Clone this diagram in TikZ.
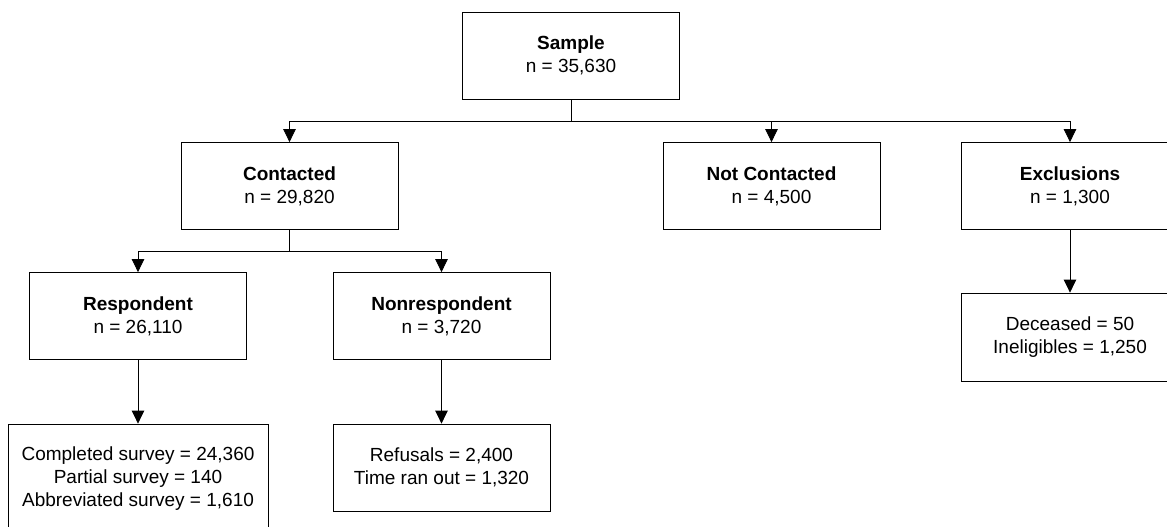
\documentclass[tikz,border=0pt]{standalone}
\usepackage{fontspec}
\setmainfont{Liberation Sans}
\usetikzlibrary{arrows.meta}
\begin{document}
\begin{tikzpicture}[x=1pt,y=-1pt,
  box/.style={draw=black,line width=0.8pt,fill=white,align=center,minimum width=217pt,minimum height=87pt,inner sep=0pt,font=\fontsize{19}{23}\selectfont},
  conn/.style={draw=black,line width=0.8pt},
  arr/.style={conn,-{Triangle[length=13pt,width=12.5pt]}}]
\useasboundingbox (0,0) rectangle (1167,527);
\node[box] (sample) at (571,55.5) {\textbf{Sample}\\n = 35,630};
\node[box] (contacted) at (289.5,186) {\textbf{Contacted}\\n = 29,820};
\node[box] (notc) at (771.5,186) {\textbf{Not Contacted}\\n = 4,500};
\node[box] (excl) at (1070,186) {\textbf{Exclusions}\\n = 1,300};
\node[box] (resp) at (138,316) {\textbf{Respondent}\\n = 26,110};
\node[box] (nonresp) at (441.5,316) {\textbf{Nonrespondent}\\n = 3,720};
\node[box,minimum width=260pt,minimum height=110pt] (completed) at (138,479) {Completed survey = 24,360\\Partial survey = 140\\Abbreviated survey = 1,610};
\node[box] (refusals) at (441.5,467.5) {Refusals = 2,400\\Time ran out = 1,320};
\node[box,minimum height=88pt] (deceased) at (1070,337) {Deceased = 50\\Ineligibles = 1,250};
\coordinate (j1) at (571,121);
\coordinate (j2) at (289.5,251);
\draw[conn] (sample.south) -- (j1);
\draw[arr] (j1) -| (contacted.north);
\draw[arr] (j1) -| (notc.north);
\draw[arr] (j1) -| (excl.north);
\draw[conn] (contacted.south) -- (j2);
\draw[arr] (j2) -| (resp.north);
\draw[arr] (j2) -| (nonresp.north);
\draw[arr] (resp.south) -- (completed.north);
\draw[arr] (nonresp.south) -- (refusals.north);
\draw[arr] (excl.south) -- (deceased.north);
\end{tikzpicture}
\end{document}
